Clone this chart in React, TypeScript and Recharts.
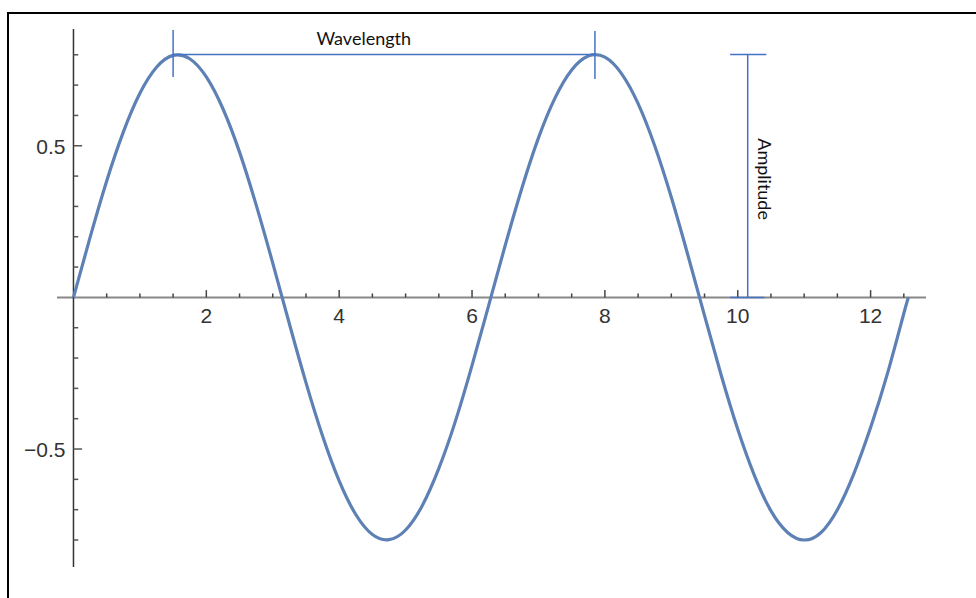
import React from 'react';
import { LineChart, Line, XAxis, YAxis, ReferenceLine, ReferenceDot } from 'recharts';

// curve samples
const xValues = [
  0, 0.25, 0.5, 0.75, 1, 1.25, 1.5, 1.75, 2, 2.25, 2.5, 2.75, 3, 3.25, 3.5, 3.75,
  4, 4.25, 4.5, 4.75, 5, 5.25, 5.5, 5.75, 6, 6.25, 6.5, 6.75, 7, 7.25, 7.5, 7.75,
  8, 8.25, 8.5, 8.75, 9, 9.25, 9.5, 9.75, 10, 10.25, 10.5, 10.75, 11, 11.25, 11.5,
  11.75, 12, 12.25, 12.5, 12.57,
];
const yValues = [
  0, 0.198, 0.384, 0.545, 0.673, 0.759, 0.798, 0.787, 0.727, 0.622, 0.479, 0.305, 0.113, -0.087, -0.281, -0.457,
  -0.605, -0.716, -0.782, -0.799, -0.767, -0.687, -0.564, -0.408, -0.224, -0.027, 0.172, 0.36, 0.526, 0.658, 0.75, 0.796,
  0.792, 0.738, 0.639, 0.5, 0.33, 0.139, -0.06, -0.256, -0.435, -0.587, -0.704, -0.775, -0.8, -0.776, -0.7,
  -0.58, -0.429, -0.254, -0.053, 0,
];

const xMajorTicks = [2, 4, 6, 8, 10, 12];
const xMinorTicks = [0.5, 1, 1.5, 2.5, 3, 3.5, 4.5, 5, 5.5, 6.5, 7, 7.5, 8.5, 9, 9.5, 10.5, 11, 11.5, 12.5];
const yMajorTicks = [-0.5, 0.5];
const yMinorTicks = [-0.8, -0.7, -0.6, -0.4, -0.3, -0.2, -0.1, 0.1, 0.2, 0.3, 0.4, 0.6, 0.7, 0.8];

// annotation anchors (data units)
const waveStart = 1.5;
const waveEnd = 7.85;
const peak = 0.801;
const ampX = 10.15;

const data = xValues.map((x, i) => ({ x, y: yValues[i] }));

const CURVE = '#5E81B5';
const NOTE = '#4472C4';
const TICK_FONT = '"Liberation Sans", Arial, sans-serif';
const NOTE_FONT = 'Lato, sans-serif';

const fmt = (t: number) => (t < 0 ? '\u2212' + String(-t) : String(t));

export default function App() {
  return (
    <div style={{ position: 'fixed', left: 0, top: 0, width: 976, height: 598, overflow: 'hidden', background: '#fff' }}>
      <div
        style={{
          position: 'absolute', left: 7, top: 12, width: 980, height: 600,
          borderTop: '2px solid #000', borderLeft: '2px solid #000',
        }}
      />
      <div style={{ position: 'absolute', left: 0, top: 0 }}>
        <LineChart width={976} height={598} data={data} margin={{ top: 29, bottom: 31, left: 57, right: 50 }}>
          <XAxis type="number" dataKey="x" domain={[-0.248, 12.834]} hide allowDataOverflow />
          <YAxis type="number" domain={[-0.889, 0.885]} hide allowDataOverflow />

          <ReferenceLine y={0} stroke="#888" strokeWidth={2} />
          <ReferenceLine x={0} stroke="#333" strokeWidth={1.5} />

          {xMinorTicks.map((t) => (
            <ReferenceLine key={'xm' + t} segment={[{ x: t, y: 0 }, { x: t, y: 0.013 }]} stroke="#444" strokeWidth={1.5} />
          ))}
          {xMajorTicks.map((t) => (
            <ReferenceLine key={'xM' + t} segment={[{ x: t, y: 0 }, { x: t, y: 0.024 }]} stroke="#444" strokeWidth={1.5} />
          ))}
          {yMinorTicks.map((t) => (
            <ReferenceLine key={'ym' + t} segment={[{ x: 0, y: t }, { x: 0.072, y: t }]} stroke="#555" strokeWidth={1.5} />
          ))}
          {yMajorTicks.map((t) => (
            <ReferenceLine key={'yM' + t} segment={[{ x: 0, y: t }, { x: 0.13, y: t }]} stroke="#555" strokeWidth={1.5} />
          ))}

          {xMajorTicks.map((t) => (
            <ReferenceDot
              key={'xl' + t}
              x={t}
              y={0}
              shape={(p: any) => (
                <text x={p.cx} y={p.cy + 26} textAnchor="middle" fontFamily={TICK_FONT} fontSize={21} fill="#333">
                  {fmt(t)}
                </text>
              )}
            />
          ))}
          {yMajorTicks.map((t) => (
            <ReferenceDot
              key={'yl' + t}
              x={0}
              y={t}
              shape={(p: any) => (
                <text x={p.cx - 8} y={p.cy + 8} textAnchor="end" fontFamily={TICK_FONT} fontSize={21} fill="#333">
                  {fmt(t)}
                </text>
              )}
            />
          ))}

          <Line
            type="natural"
            dataKey="y"
            stroke={CURVE}
            strokeWidth={3.2}
            dot={false}
            activeDot={false}
            isAnimationActive={false}
          />

          {/* wavelength bracket */}
          <ReferenceLine segment={[{ x: waveStart, y: peak }, { x: waveEnd, y: peak }]} stroke={NOTE} strokeWidth={1.5} />
          <ReferenceLine segment={[{ x: waveStart, y: 0.882 }, { x: waveStart, y: 0.727 }]} stroke={NOTE} strokeWidth={1.5} />
          <ReferenceLine segment={[{ x: waveEnd, y: 0.878 }, { x: waveEnd, y: 0.72 }]} stroke={NOTE} strokeWidth={1.5} />
          <ReferenceDot
            x={4.37}
            y={peak}
            shape={(p: any) => (
              <text x={p.cx} y={p.cy - 9} textAnchor="middle" fontFamily={NOTE_FONT} fontSize={18} fill="#111">
                Wavelength
              </text>
            )}
          />

          {/* amplitude bracket */}
          <ReferenceLine segment={[{ x: ampX, y: peak }, { x: ampX, y: 0 }]} stroke={NOTE} strokeWidth={1.5} />
          <ReferenceLine segment={[{ x: 9.886, y: peak }, { x: 10.43, y: peak }]} stroke={NOTE} strokeWidth={1.5} />
          <ReferenceLine segment={[{ x: 9.886, y: 0 }, { x: 10.4, y: 0 }]} stroke={NOTE} strokeWidth={1.5} />
          <ReferenceDot
            x={10.31}
            y={0.39}
            shape={(p: any) => (
              <text
                x={p.cx}
                y={p.cy}
                textAnchor="middle"
                transform={`rotate(90 ${p.cx} ${p.cy})`}
                fontFamily={NOTE_FONT}
                fontSize={18}
                fill="#111"
              >
                Amplitude
              </text>
            )}
          />
        </LineChart>
      </div>
    </div>
  );
}
